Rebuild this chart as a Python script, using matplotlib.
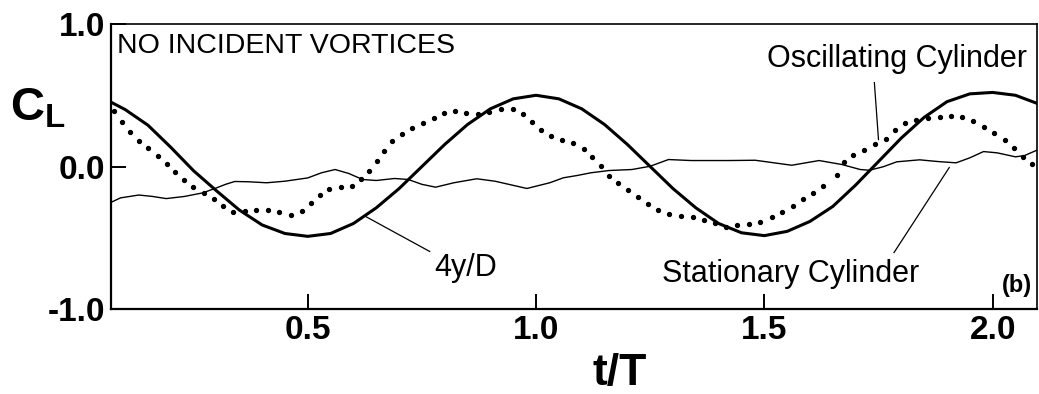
import matplotlib.pyplot as plt

plt.rcParams['font.family'] = ['Liberation Sans', 'DejaVu Sans']
plt.rcParams['mathtext.fontset'] = 'custom'
plt.rcParams['mathtext.rm'] = 'Liberation Sans'
plt.rcParams['mathtext.bf'] = 'Liberation Sans:bold'

# 4y/D (thick solid line)
t_y = [0.07, 0.10, 0.15, 0.20, 0.25, 0.30, 0.35, 0.40, 0.45, 0.50,
       0.55, 0.60, 0.65, 0.70, 0.75, 0.80, 0.85, 0.90, 0.95, 1.00,
       1.05, 1.10, 1.15, 1.20, 1.25, 1.30, 1.35, 1.40, 1.45, 1.50,
       1.55, 1.60, 1.65, 1.70, 1.75, 1.80, 1.85, 1.90, 1.95, 2.00,
       2.05, 2.10]
y_disp = [0.45, 0.40, 0.29, 0.135, -0.03, -0.17, -0.305, -0.41, -0.47, -0.49,
          -0.47, -0.40, -0.29, -0.155, 0.00, 0.155, 0.295, 0.405, 0.475, 0.50,
          0.475, 0.405, 0.295, 0.155, 0.00, -0.155, -0.29, -0.40, -0.465, -0.485,
          -0.455, -0.385, -0.28, -0.13, 0.035, 0.20, 0.345, 0.455, 0.51, 0.52,
          0.50, 0.44]

# stationary cylinder C_L (thin solid line)
t_st = [0.07, 0.09, 0.13, 0.16, 0.19, 0.23, 0.27, 0.30, 0.32, 0.34,
        0.37, 0.41, 0.45, 0.50, 0.53, 0.56, 0.59, 0.62, 0.65, 0.69,
        0.72, 0.75, 0.78, 0.82, 0.87, 0.91, 0.98, 1.03, 1.06, 1.09,
        1.12, 1.16, 1.21, 1.25, 1.29, 1.34, 1.42, 1.48, 1.56, 1.62,
        1.67, 1.71, 1.73, 1.76, 1.79, 1.84, 1.88, 1.92, 1.95, 1.98,
        2.01, 2.05, 2.07, 2.10]
cl_st = [-0.25, -0.22, -0.20, -0.21, -0.225, -0.21, -0.185, -0.15, -0.125, -0.105,
         -0.107, -0.114, -0.103, -0.08, -0.044, -0.021, -0.049, -0.091, -0.098, -0.084,
         -0.091, -0.125, -0.145, -0.114, -0.086, -0.103, -0.154, -0.114, -0.079, -0.063,
         -0.044, -0.028, -0.021, 0.002, 0.049, 0.042, 0.042, 0.044, 0.009, 0.042,
         0.014, -0.021, -0.026, -0.002, 0.033, 0.047, 0.035, 0.026, 0.061, 0.105,
         0.096, 0.068, 0.077, 0.119]

# oscillating cylinder C_L (dotted)
t_osc = [0.076, 0.093, 0.110, 0.130, 0.151, 0.172, 0.191, 0.210, 0.229, 0.249,
         0.272, 0.294, 0.315, 0.337, 0.362, 0.387, 0.412, 0.438, 0.463, 0.487,
         0.507, 0.526, 0.547, 0.572, 0.596, 0.616, 0.635, 0.651, 0.667, 0.684,
         0.706, 0.729, 0.752, 0.776, 0.799, 0.822, 0.847, 0.872, 0.898, 0.923,
         0.949, 0.971, 0.992, 1.011, 1.033, 1.057, 1.082, 1.104, 1.123, 1.142,
         1.159, 1.180, 1.201, 1.223, 1.245, 1.267, 1.292, 1.318, 1.343, 1.367,
         1.392, 1.416, 1.441, 1.467, 1.491, 1.516, 1.539, 1.562, 1.585, 1.607,
         1.628, 1.659, 1.675, 1.695, 1.718, 1.742, 1.767, 1.787, 1.809, 1.833,
         1.859, 1.884, 1.909, 1.934, 1.958, 1.981, 2.003, 2.026, 2.046, 2.067,
         2.086]
cl_osc = [0.388, 0.311, 0.241, 0.182, 0.131, 0.077, 0.021, -0.040, -0.096, -0.143,
          -0.185, -0.227, -0.278, -0.321, -0.31, -0.307, -0.302, -0.320, -0.339, -0.311,
          -0.255, -0.201, -0.156, -0.147, -0.140, -0.09, -0.028, 0.042, 0.112, 0.178,
          0.229, 0.269, 0.304, 0.339, 0.374, 0.388, 0.374, 0.370, 0.384, 0.402,
          0.402, 0.367, 0.314, 0.258, 0.211, 0.189, 0.166, 0.124, 0.065, 0.002,
          -0.063, -0.117, -0.168, -0.215, -0.265, -0.307, -0.330, -0.344, -0.353, -0.374,
          -0.398, -0.421, -0.409, -0.400, -0.388, -0.351, -0.316, -0.274, -0.229, -0.185,
          -0.138, -0.06, 0.030, 0.082, 0.119, 0.159, 0.196, 0.253, 0.302, 0.330,
          0.34, 0.346, 0.353, 0.346, 0.321, 0.276, 0.237, 0.188, 0.129, 0.07,
          0.019]

x_ticks = [0.5, 1.0, 1.5, 2.0]
x_labels = ['0.5', '1.0', '1.5', '2.0']
y_ticks = [-1.0, 0.0, 1.0]
y_labels = ['-1.0', '0.0', '1.0']

fig = plt.figure(figsize=(10.39, 3.94), dpi=100)
ax = fig.add_axes([0.1068, 0.2157, 0.8912, 0.7233])

ax.plot(t_st, cl_st, color='black', linewidth=1.0)
ax.plot(t_y, y_disp, color='black', linewidth=2.2)
ax.plot(t_osc, cl_osc, linestyle='none', marker='o', markersize=2.8, color='black')

ax.set_xlim(0.069, 2.097)
ax.set_ylim(-1.0, 1.0)
ax.set_xticks(x_ticks)
ax.set_xticklabels(x_labels)
ax.set_yticks(y_ticks)
ax.set_yticklabels(y_labels)
ax.tick_params(direction='in', length=11, width=1.4, labelsize=24, pad=4)
for lab in ax.get_xticklabels() + ax.get_yticklabels():
    lab.set_fontweight('bold')
for sp in ['left', 'bottom']:
    ax.spines[sp].set_linewidth(1.6)
for sp in ['top', 'right']:
    ax.spines[sp].set_linewidth(1.2)

# labels and annotations
ax.text(0.082, 0.80, 'NO INCIDENT VORTICES', fontsize=20.5)
ax.text(2.075, 0.695, 'Oscillating Cylinder', fontsize=22, ha='right')
ax.plot([1.741, 1.750], [0.589, 0.189], color='black', linewidth=0.9)
ax.text(1.839, -0.807, 'Stationary Cylinder', fontsize=22, ha='right')
ax.plot([1.905, 1.784], [-0.007, -0.604], color='black', linewidth=0.9)
ax.text(0.778, -0.765, '4y/D', fontsize=22)
ax.plot([0.627, 0.767], [-0.351, -0.596], color='black', linewidth=0.9)
ax.text(2.087, -0.88, '(b)', fontsize=17, fontweight='bold', ha='right')

fig.text(0.0096, 0.693, r'$\mathbf{C_L}$', fontsize=34, va='baseline')
fig.text(620 / 1039, 0.023, 't/T', fontsize=32, fontweight='bold', ha='center', va='baseline')

fig.savefig('out.png', dpi=100)
